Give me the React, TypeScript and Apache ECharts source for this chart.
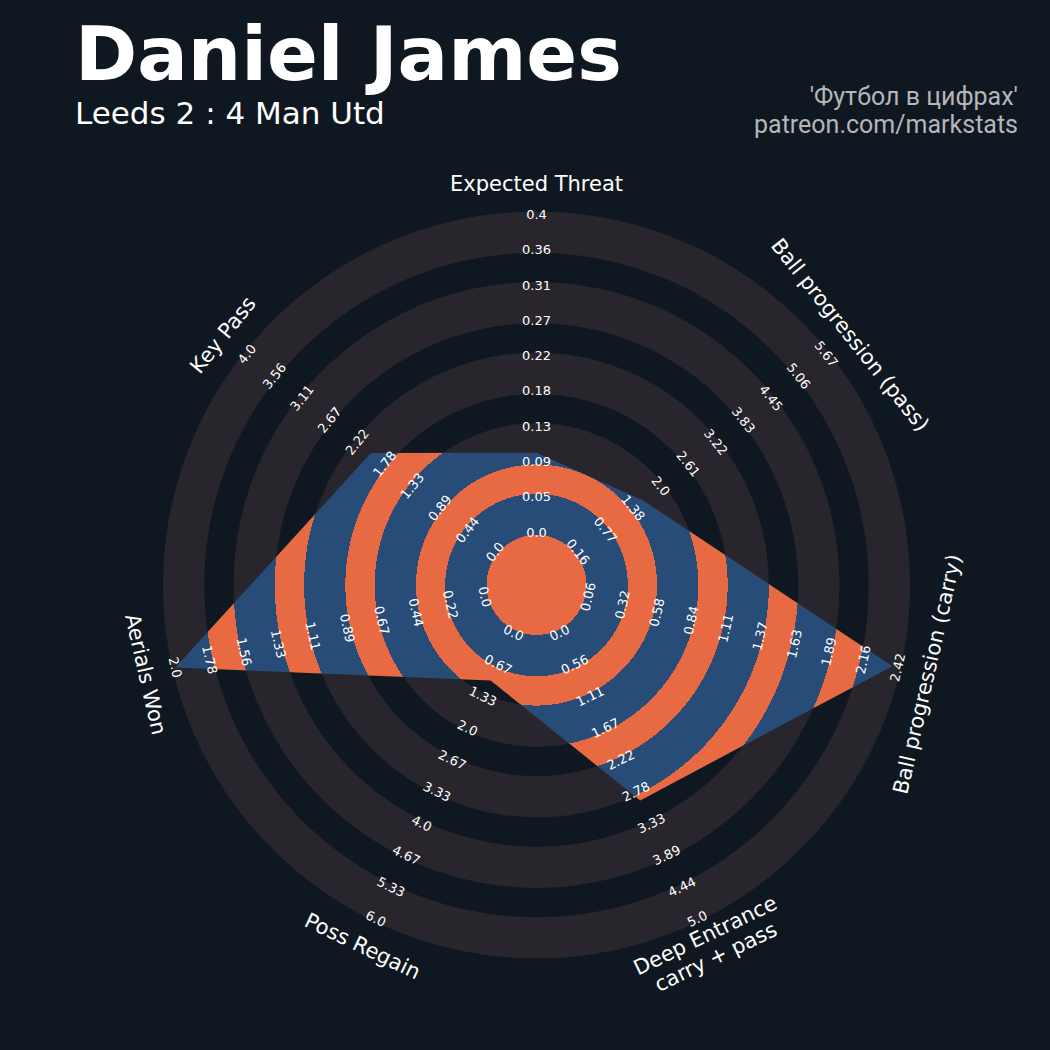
import React, { useEffect, useRef } from "react";
import * as echarts from "echarts";

// Parameters in clockwise order, starting at the top of the radar
const PARAMS = [
  "Expected Threat",
  "Ball progression (pass)",
  "Ball progression (carry)",
  "Deep Entrance\ncarry + pass",
  "Poss Regain",
  "Aerials Won",
  "Key Pass",
];
const MIN_RANGE = [0.0, 0.16, 0.06, 0.0, 0.0, 0.0, 0.0];
const MAX_RANGE = [0.4, 5.67, 2.42, 5.0, 6.0, 2.0, 4.0];
const PLAYER_VALUES = [0.1, 1.6, 2.38, 2.93, 1.0, 2.0, 2.0];

// Range labels printed along each spoke, from the centre outwards
const RANGE_LABELS = [
  ["0.0", "0.05", "0.09", "0.13", "0.18", "0.22", "0.27", "0.31", "0.36", "0.4"],
  ["0.16", "0.77", "1.38", "2.0", "2.61", "3.22", "3.83", "4.45", "5.06", "5.67"],
  ["0.06", "0.32", "0.58", "0.84", "1.11", "1.37", "1.63", "1.89", "2.16", "2.42"],
  ["0.0", "0.56", "1.11", "1.67", "2.22", "2.78", "3.33", "3.89", "4.44", "5.0"],
  ["0.0", "0.67", "1.33", "2.0", "2.67", "3.33", "4.0", "4.67", "5.33", "6.0"],
  ["0.0", "0.22", "0.44", "0.67", "0.89", "1.11", "1.33", "1.56", "1.78", "2.0"],
  ["0.0", "0.44", "0.89", "1.33", "1.78", "2.22", "2.67", "3.11", "3.56", "4.0"],
];

const TITLE = "Daniel James";
const SUBTITLE = "Leeds 2 : 4 Man Utd";
const CREDIT_LINES = ["'Футбол в цифрах'", "patreon.com/markstats"];

// Layout
const CX = 536.5;
const CY = 585;
const CENTER_R = 53; // radius where each spoke's minimum sits
const SPAN = 317.5; // radial length from minimum to maximum
const NUM_RINGS = 9;
const RING_W = SPAN / NUM_RINGS;
const GAP = 3; // the light bands overlap the dark ones slightly
const NAME_R = 401;

const BG = "#0f1820";
const RING_GREY = "#28252c";
const BLUE = "#274c77";
const ORANGE = "#e76a43";
const FONT = '"DejaVu Sans", sans-serif';

const spokeAngle = (k: number) => 90 - (k * 360) / PARAMS.length;
const uprightRotation = (deg: number) => {
  let r = deg - 90;
  while (r <= -90) r += 180;
  while (r > 90) r -= 180;
  return r;
};

export default function App() {
  const ref = useRef<HTMLDivElement | null>(null);

  useEffect(() => {
    document.body.style.margin = "0";
    document.body.style.background = BG;
    if (!ref.current) return;
    const chart = echarts.init(ref.current, undefined, { renderer: "svg" });

    const n = PARAMS.length;
    // ECharts lays radar spokes out counter-clockwise; reorder to get clockwise spokes
    const order = [0, ...Array.from({ length: n - 1 }, (_, i) => n - 1 - i)];
    const outerR = CENTER_R + SPAN;
    const ratio = CENTER_R / SPAN;

    const indicator = order.map((i) => ({
      name: PARAMS[i],
      min: MIN_RANGE[i] - (MAX_RANGE[i] - MIN_RANGE[i]) * ratio,
      max: MAX_RANGE[i],
    }));

    const bound = (k: number) => CENTER_R + k * RING_W;

    // Striped fill of the player polygon: orange centre plus alternate rings
    const gradR = outerR + 20;
    const orangeBands: [number, number][] = [[0, CENTER_R - GAP]];
    for (let k = 1; k < NUM_RINGS; k += 2) orangeBands.push([bound(k) + GAP, bound(k + 1) - GAP]);
    const stops: { offset: number; color: string }[] = [];
    orangeBands.forEach(([a, b], idx) => {
      if (idx > 0) stops.push({ offset: a / gradR, color: BLUE });
      stops.push({ offset: a / gradR, color: ORANGE });
      stops.push({ offset: b / gradR, color: ORANGE });
      stops.push({ offset: b / gradR, color: BLUE });
    });
    stops.push({ offset: 1, color: BLUE });
    const stripes = {
      type: "radial",
      x: CX,
      y: CY,
      r: gradR,
      global: true,
      colorStops: stops,
    };

    const graphics: any[] = [];
    // Background rings
    for (let k = 0; k < NUM_RINGS; k += 2) {
      graphics.push({
        type: "ring",
        z: 0,
        silent: true,
        shape: { cx: CX, cy: CY, r0: bound(k) - GAP, r: bound(k + 1) + GAP },
        style: { fill: RING_GREY },
      });
    }

    // Range labels and parameter names
    PARAMS.forEach((p, k) => {
      const deg = spokeAngle(k);
      const rad = (deg * Math.PI) / 180;
      const rot = (uprightRotation(deg) * Math.PI) / 180;
      RANGE_LABELS[k].forEach((lab, i) => {
        const r = bound(i);
        graphics.push({
          type: "text",
          z: 100,
          silent: true,
          x: CX + r * Math.cos(rad),
          y: CY - r * Math.sin(rad),
          rotation: rot,
          style: {
            text: lab,
            fill: "#ffffff",
            font: `13px ${FONT}`,
            align: "center",
            verticalAlign: "middle",
          },
        });
      });
      graphics.push({
        type: "text",
        z: 100,
        silent: true,
        x: CX + NAME_R * Math.cos(rad),
        y: CY - NAME_R * Math.sin(rad),
        rotation: rot,
        style: {
          text: p,
          fill: "#ffffff",
          font: `21px ${FONT}`,
          lineHeight: 24,
          align: "center",
          verticalAlign: "middle",
        },
      });
    });

    graphics.push(
      {
        type: "text",
        z: 100,
        x: 75,
        y: 54,
        style: {
          text: TITLE,
          fill: "#ffffff",
          font: `bold 75px ${FONT}`,
          lineHeight: 60,
          align: "left",
          verticalAlign: "middle",
        },
      },
      {
        type: "text",
        z: 100,
        x: 75,
        y: 113,
        style: {
          text: SUBTITLE,
          fill: "#ffffff",
          font: `31px ${FONT}`,
          lineHeight: 28,
          align: "left",
          verticalAlign: "middle",
        },
      }
    );
    CREDIT_LINES.forEach((line, i) => {
      graphics.push({
        type: "text",
        z: 100,
        x: 1018,
        y: 96 + i * 28,
        style: { text: line, fill: "#b4b6b9", font: `25px Roboto, sans-serif`, align: "right", verticalAlign: "middle" },
      });
    });

    chart.setOption({
      animation: false,
      backgroundColor: BG,
      radar: {
        center: [CX, CY],
        radius: outerR,
        startAngle: 90,
        shape: "circle",
        splitNumber: NUM_RINGS,
        indicator,
        axisName: { show: false },
        axisLine: { show: false },
        axisTick: { show: false },
        axisLabel: { show: false },
        splitLine: { show: false },
        splitArea: { show: false },
      },
      graphic: graphics,
      series: [
        {
          type: "radar",
          z: 2,
          symbol: "none",
          lineStyle: { width: 0, opacity: 0 },
          areaStyle: { color: stripes, opacity: 1 },
          data: [{ value: order.map((i) => PLAYER_VALUES[i]), name: TITLE }],
        },
      ],
    });

    return () => chart.dispose();
  }, []);

  return <div ref={ref} style={{ width: 1050, height: 1050 }} />;
}
